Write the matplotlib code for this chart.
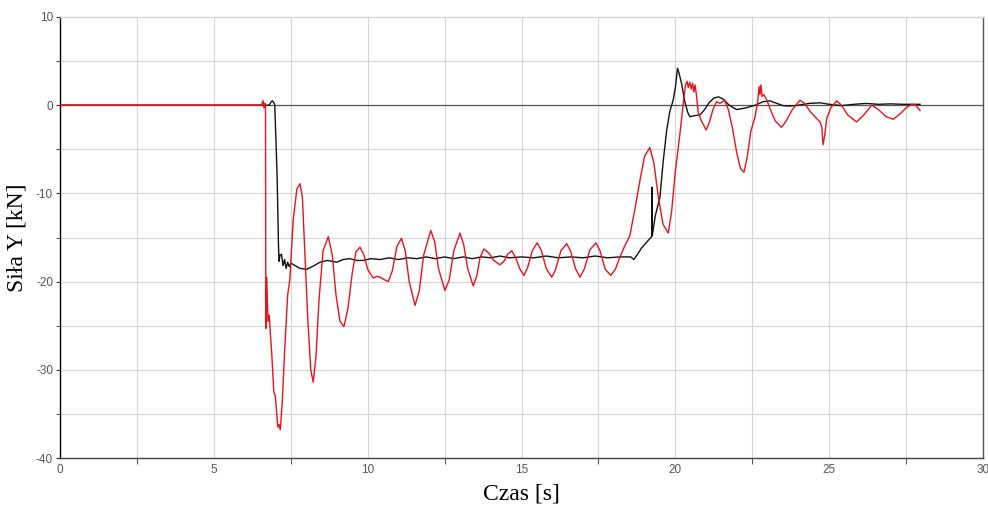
import numpy as np
import matplotlib.pyplot as plt
from matplotlib.ticker import MultipleLocator

plt.rcParams['axes.unicode_minus'] = False

# czerwona krzywa (odczyt z wykresu)
czas_red = [0, 6.55, 6.6, 6.63, 6.66, 6.68, 6.69, 6.72, 6.76, 6.8, 6.84, 6.88, 6.95, 7.0,
            7.08, 7.12, 7.16, 7.22, 7.3, 7.4, 7.47, 7.58, 7.7, 7.8, 7.88, 7.95, 8.05, 8.15,
            8.23, 8.32, 8.42, 8.55, 8.72, 8.85, 8.97, 9.1, 9.23, 9.36, 9.5, 9.62, 9.75, 9.88,
            10.0, 10.18, 10.3, 10.4, 10.55, 10.67, 10.8, 10.95, 11.1, 11.22, 11.35, 11.54,
            11.68, 11.82, 12.05, 12.18, 12.3, 12.51, 12.65, 12.8, 13.0, 13.12, 13.25, 13.43,
            13.55, 13.65, 13.78, 13.95, 14.1, 14.3, 14.45, 14.55, 14.68, 14.8, 14.95, 15.08,
            15.2, 15.35, 15.51, 15.65, 15.8, 15.98, 16.1, 16.28, 16.47, 16.6, 16.75, 16.9,
            17.05, 17.22, 17.42, 17.55, 17.72, 17.9, 18.05, 18.2, 18.35, 18.52, 18.7, 18.85,
            19.0, 19.17, 19.3, 19.45, 19.6, 19.77, 19.88, 20.0, 20.15, 20.25, 20.33, 20.38,
            20.42, 20.47, 20.52, 20.56, 20.6, 20.64, 20.69, 20.74, 20.85, 21.0, 21.1, 21.22,
            21.34, 21.45, 21.6, 21.72, 21.85, 22.0, 22.12, 22.23, 22.33, 22.45, 22.59, 22.68,
            22.72, 22.75, 22.78, 22.82, 22.87, 22.97, 23.1, 23.25, 23.45, 23.6, 23.8, 24.05,
            24.2, 24.4, 24.62, 24.7, 24.76, 24.8, 24.85, 24.92, 25.05, 25.24, 25.4, 25.6,
            25.89, 26.1, 26.38, 26.6, 26.85, 27.08, 27.3, 27.5, 27.68, 27.8, 27.95]
sila_red = [0, 0, 0.5, -0.3, 0.2, 0, -25.3, -19.5, -24.5, -23.8, -26, -28, -32.5, -33,
            -36.5, -36.2, -36.8, -34, -28, -21.5, -19.8, -13, -9.5, -8.9, -10.5, -16, -24, -30,
            -31.4, -28.5, -22, -16.5, -14.9, -17, -21.5, -24.5, -25.1, -23, -19, -16.6, -16.1, -17,
            -18.6, -19.6, -19.4, -19.5, -19.8, -20, -18.8, -16, -15.1, -16.5, -20, -22.7,
            -21, -17, -14.2, -15.5, -18.5, -21, -19.8, -16.5, -14.5, -15.8, -18.5, -20.5,
            -19.3, -17.3, -16.3, -16.8, -17.6, -18.1, -17.6, -16.9, -16.5, -17.2, -18.6, -19.3,
            -18.4, -16.5, -15.6, -16.5, -18.5, -19.5, -18.7, -16.5, -15.7, -16.6, -18.5, -19.5,
            -18.5, -16.4, -15.6, -16.5, -18.6, -19.3, -18.6, -17.2, -16, -14.8, -11.5, -8.5,
            -5.8, -4.8, -6.5, -10.5, -13.5, -14.5, -12, -7.5, -3.2, 0, 2.3, 2.7,
            2.0, 2.6, 1.8, 2.5, 1.5, 2.3, 1.0, -0.8, -1.8, -2.8, -2.0, -0.5,
            0.4, 0.2, 0.57, -0.5, -2.5, -5.5, -7.2, -7.6, -6, -3, -1.3, 0.5,
            2.1, 1.2, 2.3, 1.0, 1.2, 0.6, -0.6, -1.8, -2.5, -1.8, -0.5, 0.57,
            0.2, -0.8, -1.6, -1.9, -2.5, -4.5, -3.5, -1.5, -0.3, 0.5, 0, -1.1,
            -1.9, -1.2, 0, -0.5, -1.3, -1.6, -1.0, -0.3, 0.1, 0.05, -0.6]

# czarna krzywa
czas_blk = [0, 6.8, 6.85, 6.9, 6.95, 6.98, 7.02, 7.06, 7.1, 7.12, 7.15, 7.2, 7.25, 7.3, 7.35,
            7.4, 7.45, 7.5, 7.6, 7.8, 8.02, 8.2, 8.45, 8.7, 9.0, 9.2, 9.42, 9.65, 9.86, 10.1,
            10.4, 10.7, 11.0, 11.3, 11.6, 11.9, 12.2, 12.5, 12.8, 13.1, 13.4, 13.7, 14.0, 14.3,
            14.6, 15.0, 15.4, 15.8, 16.2, 16.6, 17.0, 17.4, 17.8, 18.2, 18.55, 18.65, 18.75,
            18.9, 19.05, 19.2, 19.23, 19.24, 19.25, 19.35, 19.5, 19.6, 19.72, 19.82, 19.93,
            20.0, 20.07, 20.12, 20.2, 20.3, 20.4, 20.47, 20.6, 20.8, 20.95, 21.1, 21.25, 21.4,
            21.55, 21.75, 21.99, 22.3, 22.6, 22.85, 23.07, 23.3, 23.5, 23.7, 24.0, 24.35, 24.7,
            25.0, 25.4, 25.8, 26.2, 26.6, 27.0, 27.4, 27.95]
sila_blk = [0, 0, 0.3, 0.5, 0.3, 0, -4, -8.5, -15.7, -17.7, -17.0, -16.9, -18.2, -17.5, -18.5,
            -17.8, -18.3, -17.9, -18.1, -18.5, -18.6, -18.3, -17.8, -17.6, -17.8, -17.5, -17.4, -17.6, -17.6, -17.4,
            -17.5, -17.3, -17.5, -17.3, -17.4, -17.2, -17.4, -17.2, -17.4, -17.2, -17.4, -17.2, -17.3, -17.1,
            -17.3, -17.2, -17.3, -17.1, -17.3, -17.2, -17.3, -17.1, -17.3, -17.2, -17.2, -17.5, -17.0,
            -16.2, -15.6, -15.0, -14.9, -9.3, -14.8, -12.5, -10.4, -6.5, -2.8, -0.7, 0.6,
            2.0, 4.2, 3.6, 2.5, 0.5, -0.8, -1.3, -1.2, -1.1, -0.5, 0.3, 0.8, 0.95,
            0.7, 0.0, -0.5, -0.3, 0.0, 0.4, 0.5, 0.2, -0.05, -0.1, 0.0, 0.2, 0.27,
            0.1, -0.05, 0.1, 0.2, 0.1, 0.15, 0.1, 0.1]

fig = plt.figure(figsize=(9.88, 5.07), dpi=100)
ax = fig.add_axes([0.0607, 0.0966, 0.9343, 0.8699])

ax.axhline(0, color='#555555', lw=0.9, zorder=1)
ax.plot(czas_blk, sila_blk, color='#111111', lw=1.0, zorder=2)
ax.plot(czas_red, sila_red, color='#e8121b', lw=1.0, zorder=3)

ax.set_xlim(0, 30)
ax.set_ylim(-40, 10)
ax.xaxis.set_major_locator(MultipleLocator(5))
ax.xaxis.set_minor_locator(MultipleLocator(2.5))
ax.yaxis.set_major_locator(MultipleLocator(10))
ax.yaxis.set_minor_locator(MultipleLocator(5))
ax.grid(which='both', color='#d4d4d4', lw=0.8)
ax.set_axisbelow(True)

ax.tick_params(which='major', axis='x', length=0, pad=4)
ax.tick_params(which='minor', axis='x', length=4, color='#333333')
ax.tick_params(which='both', axis='y', length=3, color='#333333', pad=2)
for lab in ax.get_xticklabels() + ax.get_yticklabels():
    lab.set_fontfamily('Liberation Sans')
    lab.set_fontsize(8.5)
    lab.set_color('#555555')

ax.spines['left'].set_color('black')
ax.spines['bottom'].set_color('#444444')
ax.spines['right'].set_color('#555555')
ax.spines['top'].set_color('#d4d4d4')
for s in ax.spines.values():
    s.set_linewidth(1.0)

ax.set_ylabel('Siła Y [kN]', fontfamily='Liberation Serif', fontsize=17, labelpad=6)
ax.set_xlabel('Czas [s]', fontfamily='Liberation Serif', fontsize=17, labelpad=6)

fig.savefig('out.png', dpi=100)
